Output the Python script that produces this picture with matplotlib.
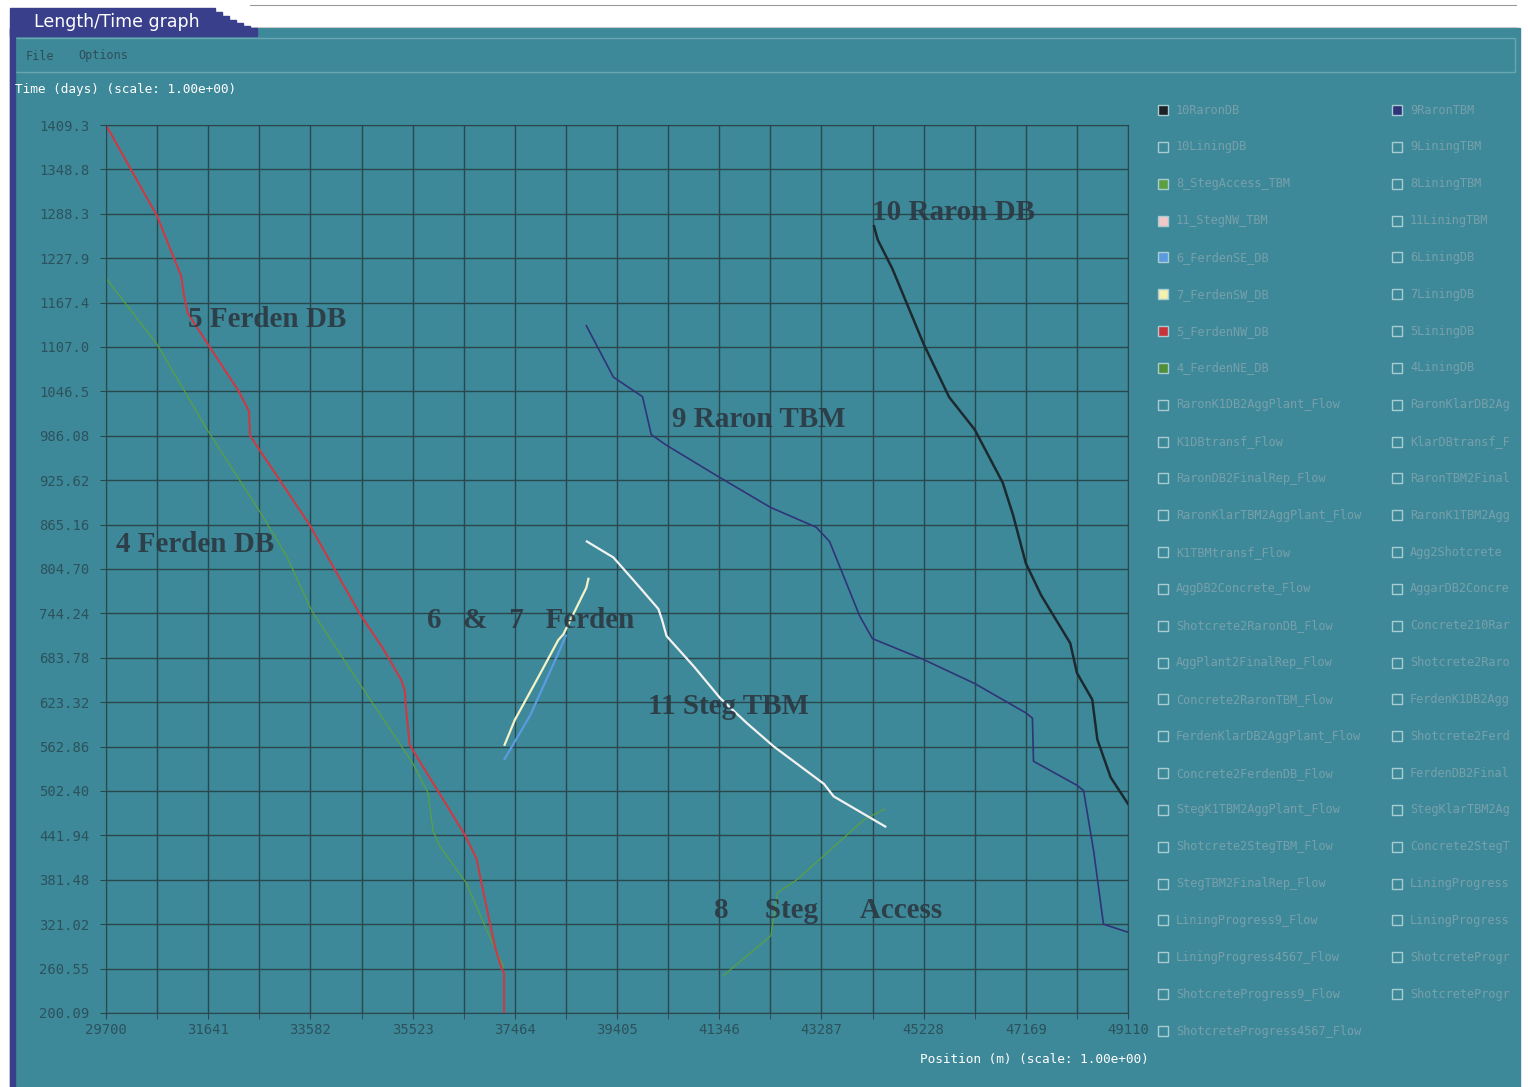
import matplotlib
matplotlib.use("Agg")
import matplotlib.pyplot as plt
from matplotlib.patches import Rectangle

# couleurs de la fenetre
teal = "#3e8999"
navy = "#3a3f8c"
grid_col = "#29474c"
tick_col = "#2c525c"
note_col = "#2c3842"
legend_txt = "#77a0ab"

# axes
x_ticks = [29700, 31641, 33582, 35523, 37464, 39405, 41346, 43287, 45228, 47169, 49110]
y_labels = ["200.09", "260.55", "321.02", "381.48", "441.94", "502.40", "562.86",
            "623.32", "683.78", "744.24", "804.70", "865.16", "925.62", "986.08",
            "1046.5", "1107.0", "1167.4", "1227.9", "1288.3", "1348.8", "1409.3"]
y_ticks = [float(v) for v in y_labels]

# series (position m, temps jours)
ferden5_x = [29700, 30670, 31127, 31185, 31253, 31670, 32223, 32417, 32437, 33563, 34514,
             34941, 35309, 35377, 35387, 35465, 35523, 36522, 36736, 36833, 37085, 37212,
             37260, 37260]
ferden5_y = [1409.3, 1285.4, 1203.7, 1175.9, 1153.0, 1107.0, 1046.5, 1019.3, 986.1, 865.2, 744.2,
             698.9, 653.5, 638.4, 623.3, 565.9, 558.6, 441.9, 410.5, 376.6, 290.8, 260.6,
             254.5, 200.1]

ferden4_x = [29700, 30670, 31641, 32612, 33126, 33611, 34582, 35523, 35814, 35911, 36037,
             36542, 36930, 37250]
ferden4_y = [1200.7, 1110.6, 992.1, 883.9, 822.8, 747.3, 641.5, 540.5, 500.0, 448.0, 427.4,
             377.2, 313.2, 263.0]

ferden7_x = [37270, 37464, 37949, 38289, 38386, 38823, 38862]
ferden7_y = [565.3, 599.1, 662.6, 707.9, 715.8, 779.3, 791.4]

ferden6_x = [37270, 37755, 38289, 38435]
ferden6_y = [545.9, 605.2, 689.8, 714.0]

raron9_x = [38823, 39337, 39890, 40055, 40327, 41346, 42317, 43190, 43442, 44015, 44258,
            45228, 46199, 47169, 47295, 47315, 48140, 48266, 48460, 48644, 49110]
raron9_y = [1136.0, 1065.9, 1039.3, 987.9, 974.0, 929.8, 888.7, 861.5, 842.2, 740.6, 709.8,
            681.4, 648.7, 608.8, 601.5, 542.9, 510.2, 503.0, 419.6, 321.0, 310.1]

raron10_x = [44287, 44355, 44636, 45228, 45713, 46199, 46732, 46926, 47169, 47460, 48013,
             48140, 48431, 48528, 48780, 49110]
raron10_y = [1271.4, 1253.3, 1213.4, 1111.2, 1038.7, 994.5, 922.0, 878.5, 812.6, 769.0, 703.7,
             663.2, 626.9, 572.5, 521.1, 484.9]

steg11_x = [38832, 39337, 39783, 40191, 40259, 40346, 40861, 41365, 41870, 42384, 43335,
            43519, 44500]
steg11_y = [842.2, 820.4, 784.1, 750.3, 735.8, 713.4, 672.3, 628.8, 594.9, 562.9, 512.1,
            495.1, 454.0]

steg8_x = [41433, 42327, 42453, 42831, 43471, 44102, 44481]
steg8_y = [251.5, 305.3, 363.9, 382.1, 423.2, 463.7, 477.6]

# noms de la liste a droite (la 2e colonne est coupee par le bord de la fenetre)
legend_col1 = ["10RaronDB", "10LiningDB", "8_StegAccess_TBM", "11_StegNW_TBM", "6_FerdenSE_DB",
               "7_FerdenSW_DB", "5_FerdenNW_DB", "4_FerdenNE_DB", "RaronK1DB2AggPlant_Flow",
               "K1DBtransf_Flow", "RaronDB2FinalRep_Flow", "RaronKlarTBM2AggPlant_Flow",
               "K1TBMtransf_Flow", "AggDB2Concrete_Flow", "Shotcrete2RaronDB_Flow",
               "AggPlant2FinalRep_Flow", "Concrete2RaronTBM_Flow", "FerdenKlarDB2AggPlant_Flow",
               "Concrete2FerdenDB_Flow", "StegK1TBM2AggPlant_Flow", "Shotcrete2StegTBM_Flow",
               "StegTBM2FinalRep_Flow", "LiningProgress9_Flow", "LiningProgress4567_Flow",
               "ShotcreteProgress9_Flow", "ShotcreteProgress4567_Flow"]
legend_col2 = ["9RaronTBM", "9LiningTBM", "8LiningTBM", "11LiningTBM", "6LiningDB", "7LiningDB",
               "5LiningDB", "4LiningDB", "RaronKlarDB2Ag", "KlarDBtransf_F",
               "RaronTBM2Final", "RaronK1TBM2Agg", "Agg2Shotcrete",
               "AggarDB2Concre", "Concrete210Rar", "Shotcrete2Raro",
               "FerdenK1DB2Agg", "Shotcrete2Ferd", "FerdenDB2Final",
               "StegKlarTBM2Ag", "Concrete2StegT", "LiningProgress",
               "LiningProgress", "ShotcreteProgr", "ShotcreteProgr"]
checked_col1 = {0: "#1c2226", 2: "#5aa043", 3: "#f2c8c8", 4: "#5a9be0", 5: "#f4f0b0",
                6: "#c8323a", 7: "#4f8f3a"}
checked_col2 = {0: "#2f3478"}

fig = plt.figure(figsize=(15.28, 10.87), dpi=100)
fig.patch.set_facecolor("white")

# fond de fenetre, coordonnees en pixels
bg = fig.add_axes([0, 0, 1, 1])
bg.set_xlim(0, 1528)
bg.set_ylim(1087, 0)
bg.axis("off")
bg.plot([250, 1516], [5, 5], color="#9a9a9a", lw=0.8)
bg.plot([250, 1516], [27, 27], color="#c8c8c8", lw=0.8)
bg.add_patch(Rectangle((10, 28), 1510, 1062, color=teal, zorder=1))
bg.add_patch(Rectangle((10, 8), 205, 28, color=navy, zorder=2))
for sx, sy in [(215, 12), (222, 16), (229, 20), (236, 23), (243, 26), (250, 28)]:
    bg.add_patch(Rectangle((sx, sy), 7, 36 - sy, color=navy, zorder=2))
bg.add_patch(Rectangle((10, 28), 5, 1062, color=navy, zorder=3))
bg.add_patch(Rectangle((15, 38), 1500, 34, facecolor=teal, edgecolor="#6aa6b2", lw=1, zorder=2))
bg.text(34, 22, "Length/Time graph", color="white", fontsize=12.5, va="center",
        family="DejaVu Sans", zorder=4)
bg.text(26, 56, "File", color="#304e58", fontsize=8.5, va="center", family="DejaVu Sans Mono", zorder=4)
bg.text(78, 56, "Options", color="#304e58", fontsize=8.5, va="center", family="DejaVu Sans Mono", zorder=4)
bg.text(15, 89, "Time (days) (scale: 1.00e+00)", color="white", fontsize=9.2, va="center",
        family="DejaVu Sans Mono", zorder=4)
bg.text(920, 1060, "Position (m) (scale: 1.00e+00)", color="white", fontsize=9.2, va="center",
        family="DejaVu Sans Mono", zorder=4)

# graphe
ax = fig.add_axes([106 / 1528, (1087 - 1013) / 1087, 1022 / 1528, 888 / 1087])
ax.set_facecolor(teal)
ax.set_xlim(29700, 49110)
ax.set_ylim(200.09, 1409.3)
ax.set_xticks(x_ticks)
ax.set_xticklabels([str(v) for v in x_ticks])
ax.set_xticks([(a + b) / 2 for a, b in zip(x_ticks[:-1], x_ticks[1:])], minor=True)
ax.set_yticks(y_ticks)
ax.set_yticklabels(y_labels)
ax.grid(True, which="both", color=grid_col, lw=1.0)
ax.tick_params(which="both", colors=grid_col, length=4, labelcolor=tick_col, labelsize=10)
ax.tick_params(axis="y", pad=8)
ax.tick_params(axis="x", pad=3)
for lab in ax.get_xticklabels() + ax.get_yticklabels():
    lab.set_family("DejaVu Sans Mono")
for sp in ax.spines.values():
    sp.set_color(grid_col)
ax.set_axisbelow(True)

ax.plot(ferden4_x, ferden4_y, color="#5aa043", lw=0.9)
ax.plot(ferden5_x, ferden5_y, color="#cc3a45", lw=1.5)
ax.plot(ferden6_x, ferden6_y, color="#5a9be0", lw=1.6)
ax.plot(ferden7_x, ferden7_y, color="#f4f2c8", lw=1.6)
ax.plot(raron9_x, raron9_y, color="#2f3478", lw=1.2)
ax.plot(raron10_x, raron10_y, color="#1c2a30", lw=1.8)
ax.plot(steg8_x, steg8_y, color="#5aa043", lw=0.9)
ax.plot(steg11_x, steg11_y, color="#f2f2f2", lw=1.6)

notes = [("5 Ferden DB", 31257, 1143.8), ("4 Ferden DB", 29890, 837.4),
         ("6   &   7   Ferden", 35797, 733.9), ("9 Raron TBM", 40450, 1007.6),
         ("10 Raron DB", 44249, 1289.5), ("11 Steg TBM", 39994, 618.1),
         ("8     Steg      Access", 41248, 340.3)]
for txt, nx, ny in notes:
    ax.text(nx, ny, txt, color=note_col, fontsize=21, fontweight="bold", family="Liberation Serif",
            va="center", ha="left", alpha=0.9)

# liste a cocher sur la droite
lg = fig.add_axes([1150 / 1528, 0, (1520 - 1150) / 1528, 1])
lg.set_xlim(1150, 1520)
lg.set_ylim(1087, 0)
lg.axis("off")
row0, step = 110, 36.84
for col_x, names, checked in [(1158, legend_col1, checked_col1), (1392, legend_col2, checked_col2)]:
    for i, name in enumerate(names):
        yy = row0 + i * step
        fc = checked.get(i, "none")
        lg.add_patch(Rectangle((col_x, yy - 5), 10, 10, facecolor=fc, edgecolor="#a8ccd2", lw=1))
        lg.text(col_x + 18, yy, name, color=legend_txt, fontsize=8.6, va="center",
                family="DejaVu Sans Mono")

plt.savefig("out.png", dpi=100)
plt.close()
